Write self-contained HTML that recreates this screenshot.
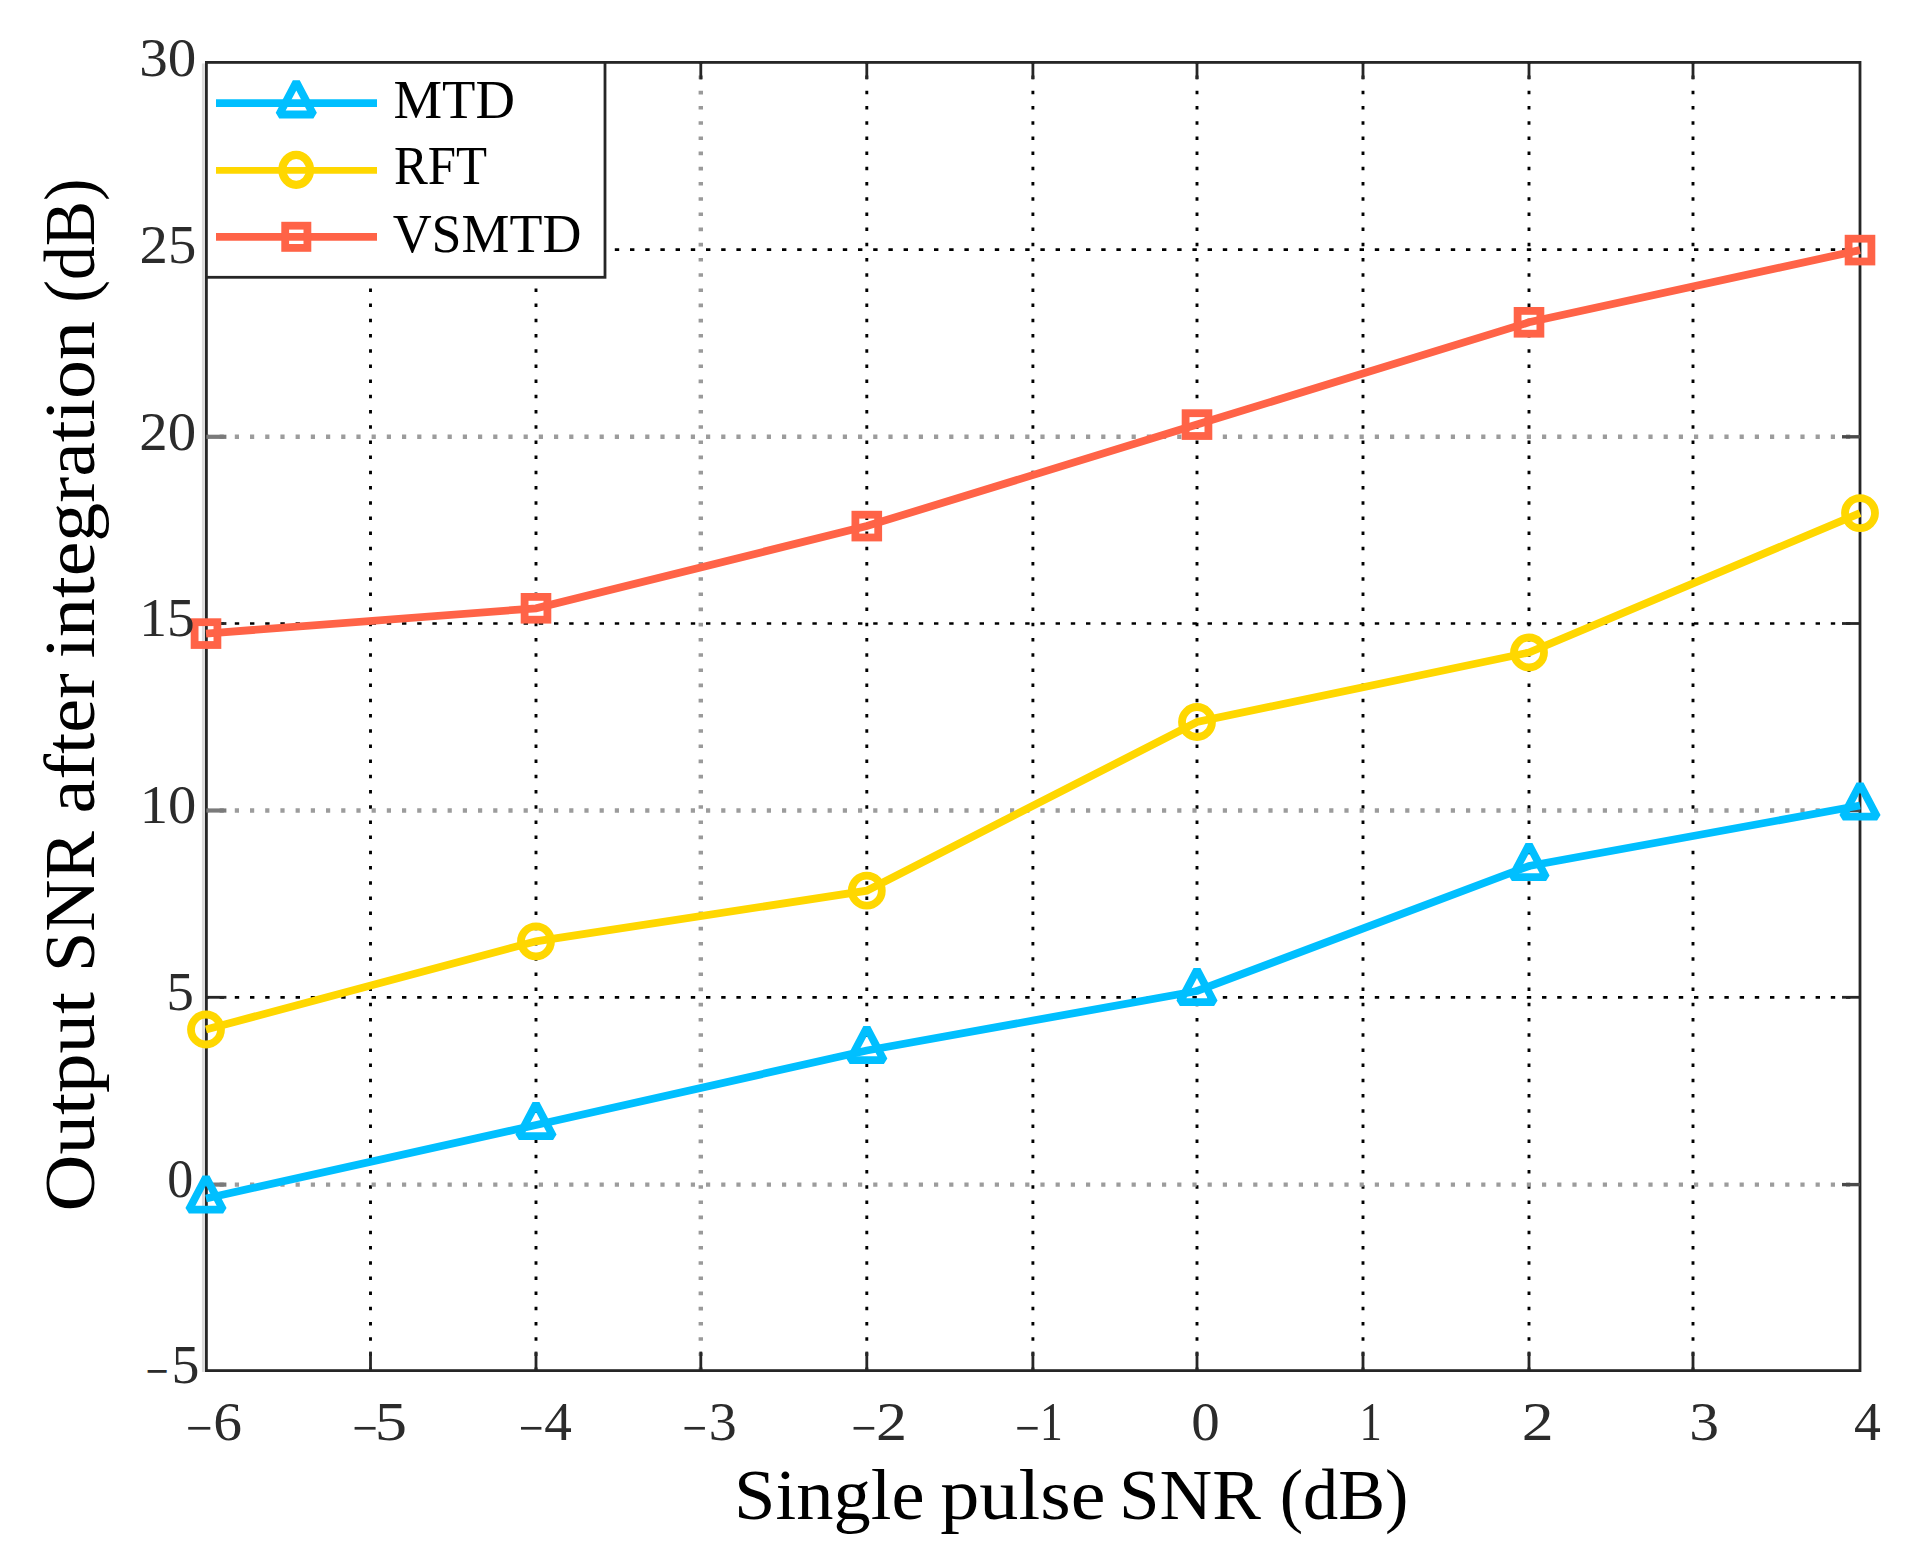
<!DOCTYPE html>
<html><head><meta charset="utf-8"><title>Output SNR after integration</title>
<style>
html,body{margin:0;padding:0;background:#fff;}
body{width:1916px;height:1565px;overflow:hidden;}
svg{display:block;}
text{font-family:"Liberation Serif","DejaVu Serif",serif;}
</style></head><body>
<svg width="1916" height="1565" viewBox="0 0 1916 1565">
<rect x="0" y="0" width="1916" height="1565" fill="#ffffff"/>

<g id="grid" fill="none">
<line x1="370.5" y1="62.4" x2="370.5" y2="1370.6" stroke="#000" stroke-width="2.9" stroke-dasharray="3.5 11.7" stroke-dashoffset="-13.2"/>
<line x1="536.0" y1="62.4" x2="536.0" y2="1370.6" stroke="#000" stroke-width="2.9" stroke-dasharray="3.5 11.7" stroke-dashoffset="-13.2"/>
<line x1="700.8" y1="62.4" x2="700.8" y2="1370.6" stroke="#9a9a9a" stroke-width="4.4" stroke-dasharray="3.6 11.6" stroke-dashoffset="-13.2"/>
<line x1="866.8" y1="62.4" x2="866.8" y2="1370.6" stroke="#000" stroke-width="2.9" stroke-dasharray="3.5 11.7" stroke-dashoffset="-13.2"/>
<line x1="1032.9" y1="62.4" x2="1032.9" y2="1370.6" stroke="#000" stroke-width="2.9" stroke-dasharray="3.5 11.7" stroke-dashoffset="-13.2"/>
<line x1="1197.0" y1="62.4" x2="1197.0" y2="1370.6" stroke="#000" stroke-width="2.9" stroke-dasharray="3.5 11.7" stroke-dashoffset="-13.2"/>
<line x1="1363.0" y1="62.4" x2="1363.0" y2="1370.6" stroke="#000" stroke-width="2.9" stroke-dasharray="3.5 11.7" stroke-dashoffset="-13.2"/>
<line x1="1529.0" y1="62.4" x2="1529.0" y2="1370.6" stroke="#000" stroke-width="2.9" stroke-dasharray="3.5 11.7" stroke-dashoffset="-13.2"/>
<line x1="1693.0" y1="62.4" x2="1693.0" y2="1370.6" stroke="#000" stroke-width="2.9" stroke-dasharray="3.5 11.7" stroke-dashoffset="-13.2"/>
<line x1="206.4" y1="249.6" x2="1860.0" y2="249.6" stroke="#000" stroke-width="2.7" stroke-dasharray="4.4 10.799999999999999" stroke-dashoffset="-13.2"/>
<line x1="206.4" y1="436.8" x2="1860.0" y2="436.8" stroke="#9c9c9c" stroke-width="4.4" stroke-dasharray="4.2 11.0" stroke-dashoffset="-13.2"/>
<line x1="206.4" y1="623.5" x2="1860.0" y2="623.5" stroke="#000" stroke-width="2.7" stroke-dasharray="4.4 10.799999999999999" stroke-dashoffset="-13.2"/>
<line x1="206.4" y1="810.5" x2="1860.0" y2="810.5" stroke="#9c9c9c" stroke-width="4.4" stroke-dasharray="4.2 11.0" stroke-dashoffset="-13.2"/>
<line x1="206.4" y1="997.3" x2="1860.0" y2="997.3" stroke="#000" stroke-width="2.7" stroke-dasharray="4.4 10.799999999999999" stroke-dashoffset="-13.2"/>
<line x1="206.4" y1="1184.6" x2="1860.0" y2="1184.6" stroke="#9c9c9c" stroke-width="4.4" stroke-dasharray="4.2 11.0" stroke-dashoffset="-13.2"/>
</g>
<line x1="203.4" y1="63.6" x2="203.4" y2="1372.0" stroke="#dcdcdc" stroke-width="3"/>
<g id="axes" stroke="#262626" stroke-width="2.8" fill="none">
<rect x="206.4" y="62.4" width="1653.6" height="1308.1999999999998"/>
<line x1="370.5" y1="1370.6" x2="370.5" y2="1351.6"/>
<line x1="370.5" y1="62.4" x2="370.5" y2="79.4"/>
<line x1="536.0" y1="1370.6" x2="536.0" y2="1351.6"/>
<line x1="536.0" y1="62.4" x2="536.0" y2="79.4"/>
<line x1="700.8" y1="1370.6" x2="700.8" y2="1351.6"/>
<line x1="700.8" y1="62.4" x2="700.8" y2="79.4"/>
<line x1="866.8" y1="1370.6" x2="866.8" y2="1351.6"/>
<line x1="866.8" y1="62.4" x2="866.8" y2="79.4"/>
<line x1="1032.9" y1="1370.6" x2="1032.9" y2="1351.6"/>
<line x1="1032.9" y1="62.4" x2="1032.9" y2="79.4"/>
<line x1="1197.0" y1="1370.6" x2="1197.0" y2="1351.6"/>
<line x1="1197.0" y1="62.4" x2="1197.0" y2="79.4"/>
<line x1="1363.0" y1="1370.6" x2="1363.0" y2="1351.6"/>
<line x1="1363.0" y1="62.4" x2="1363.0" y2="79.4"/>
<line x1="1529.0" y1="1370.6" x2="1529.0" y2="1351.6"/>
<line x1="1529.0" y1="62.4" x2="1529.0" y2="79.4"/>
<line x1="1693.0" y1="1370.6" x2="1693.0" y2="1351.6"/>
<line x1="1693.0" y1="62.4" x2="1693.0" y2="79.4"/>
<line x1="206.4" y1="249.6" x2="226.4" y2="249.6"/>
<line x1="1860.0" y1="249.6" x2="1842.0" y2="249.6"/>
<line x1="206.4" y1="436.8" x2="226.4" y2="436.8" stroke="#7a7a7a" stroke-width="4.2"/>
<line x1="1860.0" y1="436.8" x2="1842.0" y2="436.8" stroke="#4a4a4a" stroke-width="3.4"/>
<line x1="206.4" y1="623.5" x2="226.4" y2="623.5"/>
<line x1="1860.0" y1="623.5" x2="1842.0" y2="623.5"/>
<line x1="206.4" y1="810.5" x2="226.4" y2="810.5" stroke="#7a7a7a" stroke-width="4.2"/>
<line x1="1860.0" y1="810.5" x2="1842.0" y2="810.5" stroke="#4a4a4a" stroke-width="3.4"/>
<line x1="206.4" y1="997.3" x2="226.4" y2="997.3"/>
<line x1="1860.0" y1="997.3" x2="1842.0" y2="997.3"/>
<line x1="206.4" y1="1184.6" x2="226.4" y2="1184.6" stroke="#7a7a7a" stroke-width="4.2"/>
<line x1="1860.0" y1="1184.6" x2="1842.0" y2="1184.6" stroke="#4a4a4a" stroke-width="3.4"/>
</g>
<g id="series" fill="none" stroke-width="7.8" stroke-linejoin="miter" stroke-miterlimit="2.2">
<g stroke="#00BFFF"><polyline points="206.0,1198.5 536.0,1125.0 866.8,1050.5 1197.0,991.0 1529.0,866.0 1860.0,805.5"/><polygon stroke-linejoin="bevel" points="206.0,1177.3 188.9,1209.7 223.1,1209.7"/><polygon stroke-linejoin="bevel" points="536.0,1103.8 518.9,1136.2 553.1,1136.2"/><polygon stroke-linejoin="bevel" points="866.8,1027.8 849.7,1060.2 883.9,1060.2"/><polygon stroke-linejoin="bevel" points="1197.0,969.8 1179.9,1002.2 1214.1,1002.2"/><polygon stroke-linejoin="bevel" points="1529.0,844.8 1511.9,877.2 1546.1,877.2"/><polygon stroke-linejoin="bevel" points="1860.0,784.3 1842.9,816.7 1877.1,816.7"/></g>
<g stroke="#FFD700"><polyline points="206.0,1029.5 536.0,941.3 866.8,890.7 1197.0,722.0 1529.0,652.5 1860.0,513.1"/><circle cx="206.0" cy="1029.5" r="15"/><circle cx="536.0" cy="941.3" r="15"/><circle cx="866.8" cy="890.7" r="15"/><circle cx="1197.0" cy="722.0" r="15"/><circle cx="1529.0" cy="652.5" r="15"/><circle cx="1860.0" cy="513.1" r="15"/></g>
<g stroke="#FF6347"><polyline points="206.0,633.6 536.0,608.3 866.8,526.1 1197.0,424.6 1529.0,322.3 1860.0,250.1"/><rect x="194.6" y="622.2" width="22.8" height="22.8"/><rect x="524.6" y="596.9" width="22.8" height="22.8"/><rect x="855.4" y="514.7" width="22.8" height="22.8"/><rect x="1185.6" y="413.2" width="22.8" height="22.8"/><rect x="1517.6" y="310.9" width="22.8" height="22.8"/><rect x="1848.6" y="238.7" width="22.8" height="22.8"/></g>
</g>
<g id="legend"><rect x="206.4" y="62.4" width="398.6" height="214.9" fill="#fff" stroke="#262626" stroke-width="2.8"/>
<g fill="none" stroke-width="7.8" stroke-linejoin="miter" stroke-miterlimit="2.2">
<g stroke="#00BFFF"><line x1="216.0" y1="103.2" x2="377" y2="103.2"/><polygon stroke-linejoin="bevel" points="296.3,82.1 279.2,114.5 313.4,114.5"/></g>
<g stroke="#FFD700"><line x1="216.0" y1="170.3" x2="377" y2="170.3" stroke-width="6.8"/><ellipse cx="296.2" cy="169.9" rx="13.8" ry="15" stroke-width="8.2"/></g>
<g stroke="#FF6347"><line x1="216.0" y1="236.8" x2="377" y2="236.8"/><rect x="285.2" y="225.7" width="22.2" height="22.2"/></g>
</g>
<text font-size="54.5" fill="#000"><tspan x="393.50" y="118.20" textLength="121.47" lengthAdjust="spacingAndGlyphs">MTD</tspan></text>
<text font-size="54.5" fill="#000"><tspan x="393.90" y="183.50" textLength="93.14" lengthAdjust="spacingAndGlyphs">RFT</tspan></text>
<text font-size="54.5" fill="#000"><tspan x="392.66" y="251.60" textLength="188.73" lengthAdjust="spacingAndGlyphs">VSMTD</tspan></text>
</g>
<g id="labels">
<text font-size="54" fill="#2b2b2b"><tspan x="185.82" y="1445.80" textLength="26.80" lengthAdjust="spacingAndGlyphs">−</tspan><tspan x="213.35" y="1440.00" textLength="28.77" lengthAdjust="spacingAndGlyphs">6</tspan></text>
<text font-size="54" fill="#2b2b2b"><tspan x="352.14" y="1445.80" textLength="25.47" lengthAdjust="spacingAndGlyphs">−</tspan><tspan x="374.79" y="1440.00" textLength="32.30" lengthAdjust="spacingAndGlyphs">5</tspan></text>
<text font-size="54" fill="#2b2b2b"><tspan x="518.81" y="1445.80" textLength="24.74" lengthAdjust="spacingAndGlyphs">−</tspan><tspan x="544.39" y="1440.00" textLength="27.63" lengthAdjust="spacingAndGlyphs">4</tspan></text>
<text font-size="54" fill="#2b2b2b"><tspan x="682.31" y="1445.80" textLength="24.74" lengthAdjust="spacingAndGlyphs">−</tspan><tspan x="708.84" y="1440.00" textLength="28.00" lengthAdjust="spacingAndGlyphs">3</tspan></text>
<text font-size="54" fill="#2b2b2b"><tspan x="851.37" y="1445.80" textLength="25.11" lengthAdjust="spacingAndGlyphs">−</tspan><tspan x="876.06" y="1440.00" textLength="31.06" lengthAdjust="spacingAndGlyphs">2</tspan></text>
<text font-size="54" fill="#2b2b2b"><tspan x="1015.01" y="1445.80" textLength="24.74" lengthAdjust="spacingAndGlyphs">−</tspan><tspan x="1039.75" y="1440.00" textLength="23.12" lengthAdjust="spacingAndGlyphs">1</tspan></text>
<text font-size="54" fill="#2b2b2b"><tspan x="1191.36" y="1440.00" textLength="28.47" lengthAdjust="spacingAndGlyphs">0</tspan></text>
<text font-size="54" fill="#2b2b2b"><tspan x="1359.40" y="1440.00" textLength="22.27" lengthAdjust="spacingAndGlyphs">1</tspan></text>
<text font-size="54" fill="#2b2b2b"><tspan x="1521.89" y="1440.00" textLength="31.93" lengthAdjust="spacingAndGlyphs">2</tspan></text>
<text font-size="54" fill="#2b2b2b"><tspan x="1689.17" y="1440.00" textLength="29.82" lengthAdjust="spacingAndGlyphs">3</tspan></text>
<text font-size="54" fill="#2b2b2b"><tspan x="1853.92" y="1440.00" textLength="26.88" lengthAdjust="spacingAndGlyphs">4</tspan></text>
<text font-size="54" fill="#2b2b2b"><tspan x="139.29" y="75.70" textLength="57.05" lengthAdjust="spacingAndGlyphs">30</tspan></text>
<text font-size="54" fill="#2b2b2b"><tspan x="139.59" y="262.60" textLength="56.68" lengthAdjust="spacingAndGlyphs">25</tspan></text>
<text font-size="54" fill="#2b2b2b"><tspan x="139.38" y="449.50" textLength="56.85" lengthAdjust="spacingAndGlyphs">20</tspan></text>
<text font-size="54" fill="#2b2b2b"><tspan x="139.15" y="636.40" textLength="55.47" lengthAdjust="spacingAndGlyphs">15</tspan></text>
<text font-size="54" fill="#2b2b2b"><tspan x="139.65" y="823.30" textLength="56.57" lengthAdjust="spacingAndGlyphs">10</tspan></text>
<text font-size="54" fill="#2b2b2b"><tspan x="166.46" y="1010.30" textLength="27.33" lengthAdjust="spacingAndGlyphs">5</tspan></text>
<text font-size="54" fill="#2b2b2b"><tspan x="167.15" y="1197.30" textLength="26.00" lengthAdjust="spacingAndGlyphs">0</tspan></text>
<text font-size="54" fill="#2b2b2b"><tspan x="145.56" y="1389.20" textLength="23.04" lengthAdjust="spacingAndGlyphs">−</tspan><tspan x="171.49" y="1383.40" textLength="27.95" lengthAdjust="spacingAndGlyphs">5</tspan></text>
<text font-size="72" fill="#000"><tspan x="733.97" y="1519.00" textLength="190.51" lengthAdjust="spacingAndGlyphs">Single</tspan> <tspan x="940.23" y="1519.00" textLength="165.19" lengthAdjust="spacingAndGlyphs">pulse</tspan> <tspan x="1118.98" y="1519.00" textLength="141.93" lengthAdjust="spacingAndGlyphs">SNR</tspan> <tspan x="1279.72" y="1519.00" textLength="128.70" lengthAdjust="spacingAndGlyphs">(dB)</tspan></text>
<text font-size="72" fill="#000" transform="translate(93.7,1208.4) rotate(-90)"><tspan x="-3.16" y="0.00" textLength="219.59" lengthAdjust="spacingAndGlyphs">Output</tspan> <tspan x="236.31" y="0.00" textLength="140.79" lengthAdjust="spacingAndGlyphs">SNR</tspan> <tspan x="394.82" y="0.00" textLength="140.28" lengthAdjust="spacingAndGlyphs">after</tspan> <tspan x="549.84" y="0.00" textLength="337.50" lengthAdjust="spacingAndGlyphs">integration</tspan> <tspan x="905.72" y="0.00" textLength="124.19" lengthAdjust="spacingAndGlyphs">(dB)</tspan></text>
</g>
</svg></body></html>
